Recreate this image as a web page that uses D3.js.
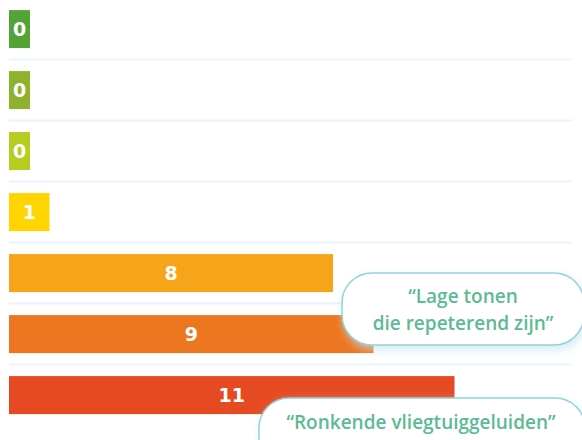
<!DOCTYPE html>
<html><head><meta charset="utf-8">
<script src="https://cdn.jsdelivr.net/npm/d3@7"></script>
<style>
html,body{margin:0;padding:0;background:#fff;}
svg{display:block;}
</style></head>
<body>
<svg id="chart" width="582" height="440"></svg>
<script>
const rows = ["r1","r2","r3","r4","r5","r6","r7"];
const values = [0, 0, 0, 1, 8, 9, 11];
const colors = ["#54a337","#8eb22b","#b6cc1e","#fed500","#f6a518","#ed7620","#e64a22"];
const callouts = [
  {lines:["“Lage tonen","die repeterend zijn”"]},
  {lines:["“Ronkende vliegtuiggeluiden”"]}
];

const svg = d3.select("#chart");
const W = 582, H = 440;

const x = d3.scaleLinear().domain([0, 11]).range([9, 454.5]);
const y = d3.scaleBand().domain(rows).range([-1.4, 425.6]).paddingInner(0.377).paddingOuter(0.1885);
const minW = 21;

const defs = svg.append("defs");
const f = defs.append("filter").attr("id","sh").attr("x","-20%").attr("y","-40%").attr("width","140%").attr("height","180%");
f.append("feDropShadow").attr("dx",2).attr("dy",4).attr("stdDeviation",5).attr("flood-color","#bfe3ee").attr("flood-opacity",0.7);

// separators
svg.append("g").selectAll("line").data(rows.slice(1)).join("line")
  .attr("x1", 9).attr("x2", 572)
  .attr("y1", d => y(d) - y.step()*y.paddingInner()/2)
  .attr("y2", d => y(d) - y.step()*y.paddingInner()/2)
  .attr("stroke", "#eaf4fb").attr("stroke-width", 2);

const bw = v => Math.max(x(v) - x(0), minW);

svg.append("g").selectAll("rect").data(values).join("rect")
  .attr("x", x(0)).attr("y", (d,i) => y(rows[i]))
  .attr("width", d => bw(d)).attr("height", y.bandwidth())
  .attr("fill", (d,i) => colors[i]);

svg.append("g").selectAll("text").data(values).join("text")
  .attr("x", d => x(0) + bw(d)/2)
  .attr("y", (d,i) => y(rows[i]) + y.bandwidth()/2)
  .attr("dy", "0.36em")
  .attr("text-anchor","middle")
  .attr("fill","#fff")
  .attr("font-family","'DejaVu Sans', sans-serif")
  .attr("font-weight","bold")
  .attr("font-size", 19)
  .text(d => d);

// callouts
const boxes = [
  {x:342, y:273, w:242, h:72},
  {x:259, y:398, w:326, h:72}
];
callouts.forEach((c,i) => {
  const b = boxes[i];
  const g = svg.append("g");
  g.append("rect").attr("x", b.x).attr("y", b.y).attr("width", b.w).attr("height", b.h)
    .attr("rx", 30).attr("ry", 30)
    .attr("fill","#fff").attr("stroke","#92d2d9").attr("stroke-width",1.5)
    .attr("filter","url(#sh)");
  const t = g.append("text").attr("text-anchor","middle")
    .attr("fill","#5cba94")
    .attr("font-family","'Open Sans', sans-serif").attr("font-weight",600).attr("font-size",19);
  c.lines.forEach((l,j) => {
    t.append("tspan").attr("x", b.x + (i===0 ? 121 : 162)).attr("y", (i===0 ? 303 : 429) + j*27).text(l);
  });
});
</script>
</body></html>
